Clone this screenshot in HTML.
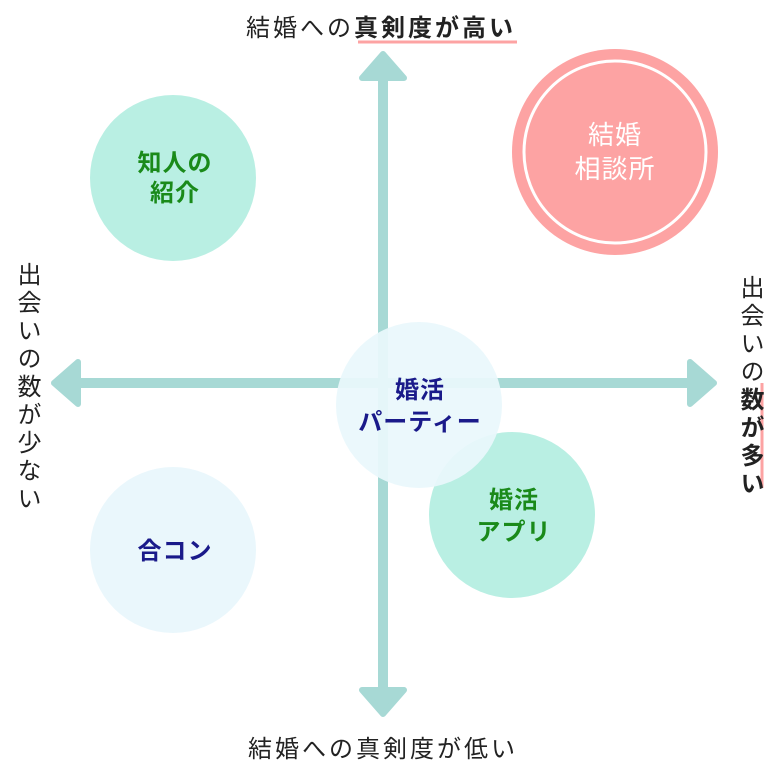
<!DOCTYPE html>
<html><head><meta charset="utf-8"><style>
body{margin:0;width:768px;height:768px;background:#fff;overflow:hidden;position:relative;font-family:"Liberation Sans","Noto Sans CJK JP",sans-serif;}
.t{position:absolute;color:#222;font-size:24px;letter-spacing:3px;white-space:nowrap;}
.v{writing-mode:vertical-rl;font-size:24px;letter-spacing:4px;}
b{font-weight:700;}
</style></head><body>
<svg width="768" height="768" style="position:absolute;left:0;top:0">
<g fill="#a7d9d5" stroke="#a7d9d5" stroke-linejoin="round" stroke-width="6">
<rect x="378" y="70" width="10" height="630" stroke="none"/>
<rect x="70" y="378" width="630" height="10" stroke="none"/>
<polygon points="383,54 404,78 362,78"/>
<polygon points="383,714 404,690 362,690"/>
<polygon points="54,383 78,362 78,404"/>
<polygon points="714,383 690,362 690,404"/>
</g>
<circle cx="173" cy="178" r="83" fill="#b9efe3"/>
<circle cx="615" cy="152" r="103" fill="#fda3a3"/>
<circle cx="615" cy="152" r="91" fill="none" stroke="#fff" stroke-width="3"/>
<circle cx="512" cy="515" r="83" fill="#b9efe3"/>
<circle cx="419" cy="405" r="83" fill="#eaf7fc" fill-opacity="0.93"/>
<circle cx="173" cy="550" r="83" fill="#eaf7fc"/>
<line x1="358" y1="42" x2="517" y2="42" stroke="#fda3a3" stroke-width="3"/>
<line x1="762" y1="383" x2="762" y2="488" stroke="#fda3a3" stroke-width="3"/>
<g font-family="Liberation Sans,Noto Sans CJK JP,sans-serif" font-size="24" font-weight="700" text-anchor="middle" letter-spacing="1">
<text x="175" y="171" fill="#1a8a1a">知人の</text>
<text x="175" y="201" fill="#1a8a1a">紹介</text>
<text x="615" y="144" fill="#fff" font-weight="400" font-size="26">結婚</text>
<text x="615" y="178" fill="#fff" font-weight="400" font-size="26">相談所</text>
<text x="420" y="398" fill="#1a1a8a">婚活</text>
<text x="420" y="430" fill="#1a1a8a">パーティー</text>
<text x="514" y="508" fill="#1a8a1a">婚活</text>
<text x="514" y="540" fill="#1a8a1a">アプリ</text>
<text x="175" y="559" fill="#1a1a8a">合コン</text>
</g>
</svg>
<div class="t" style="left:246px;top:8px;">結婚への<b>真剣度が高い</b></div>
<div class="t" style="left:248px;top:729px;">結婚への真剣度が低い</div>
<div class="t v" style="left:9px;top:262px;">出会いの数が少ない</div>
<div class="t v" style="left:732px;top:275px;">出会いの<b>数が多い</b></div>
</body></html>
